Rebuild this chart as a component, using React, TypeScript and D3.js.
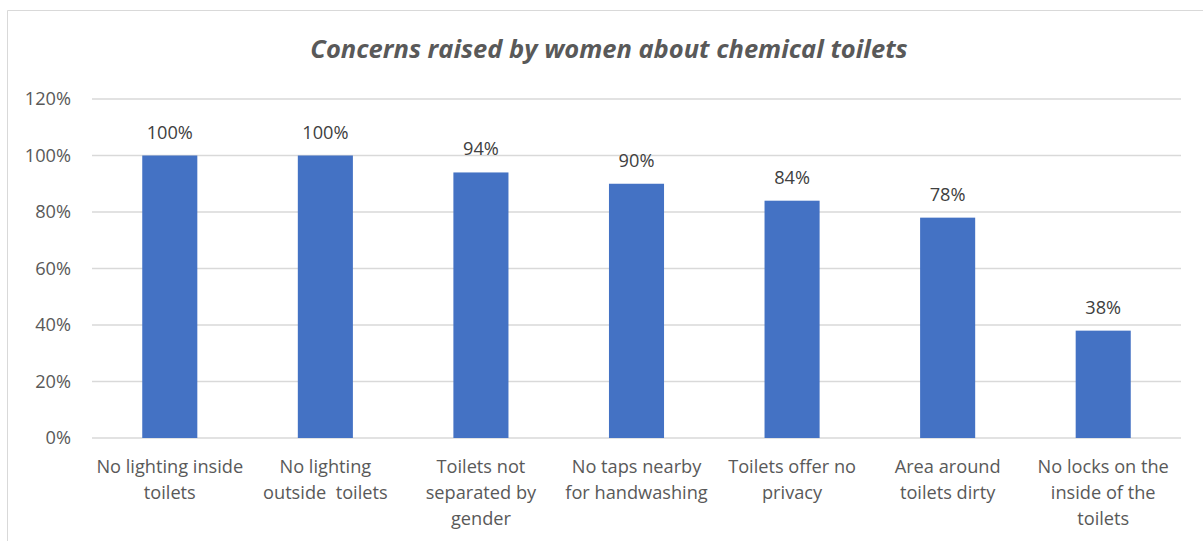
import React from "react";
import * as d3 from "d3";

const categories: string[][] = [
  ["No lighting inside", "toilets"],
  ["No lighting", "outside  toilets"],
  ["Toilets not", "separated by", "gender"],
  ["No taps nearby", "for handwashing"],
  ["Toilets offer no", "privacy"],
  ["Area around", "toilets dirty"],
  ["No locks on the", "inside of the", "toilets"],
];
const values: number[] = [1.0, 1.0, 0.94, 0.9, 0.84, 0.78, 0.38];
const yTicks: number[] = [0, 0.2, 0.4, 0.6, 0.8, 1.0, 1.2];
const title = "Concerns raised by women about chemical toilets";

export default function App() {
  const W = 1203, H = 541;
  const left = 92, right = 1181, top = 99, bottom = 438;
  const ids = categories.map((_, i) => String(i));
  const x = d3.scaleBand<string>().domain(ids).range([left, right]).paddingInner(0.646).paddingOuter(0.323);
  const y = d3.scaleLinear().domain([0, 1.2]).range([bottom, top]);
  const fmt = d3.format(".0%");
  const font = "'Open Sans', sans-serif";
  const band = (right - left) / categories.length;
  const fs = 18.2;
  return (
    <svg width={W} height={H} style={{ position: "absolute", left: 0, top: 0 }} fontFamily={font}>
      <rect x={0} y={0} width={W} height={H} fill="#fff" />
      <path d={`M7.5,${H} V10.5 H${W}`} fill="none" stroke="#d9d9d9" strokeWidth={1} />
      <text x={609} y={58} textAnchor="middle" fontSize={25.5} fontWeight="bold" fontStyle="italic" fill="#595959">{title}</text>
      {yTicks.map((t) => (
        <g key={t}>
          <line x1={left} x2={right} y1={y(t)} y2={y(t)} stroke="#d9d9d9" strokeWidth={1.3} />
          <text x={71} y={y(t) + 6} textAnchor="end" fontSize={fs} fill="#595959">{fmt(t)}</text>
        </g>
      ))}
      {values.map((v, i) => (
        <g key={i}>
          <rect x={x(String(i))} y={y(v)} width={x.bandwidth()} height={bottom - y(v)} fill="#4472c4" />
          <text x={(x(String(i)) as number) + x.bandwidth() / 2} y={y(v) - 17} textAnchor="middle" fontSize={fs} fill="#404040">{fmt(v)}</text>
        </g>
      ))}
      {categories.map((lines, i) => {
        const cx = left + band * (i + 0.5);
        return (
          <text key={i} x={cx} textAnchor="middle" fontSize={fs} fill="#595959">
            {lines.map((l, j) => (
              <tspan key={j} x={cx} y={473 + j * 26} style={{ whiteSpace: "pre" }}>{l}</tspan>
            ))}
          </text>
        );
      })}
    </svg>
  );
}
